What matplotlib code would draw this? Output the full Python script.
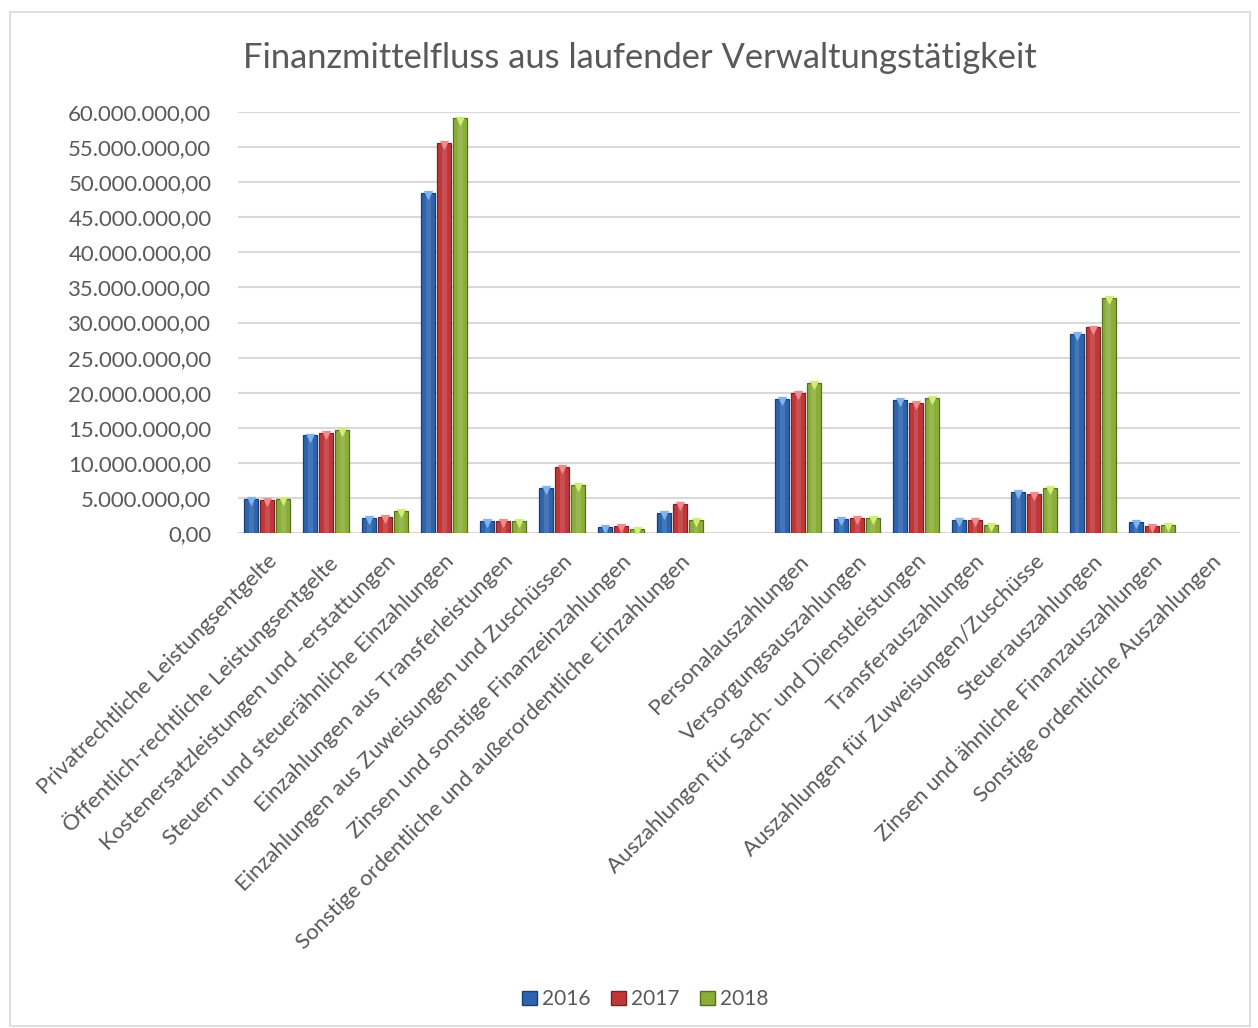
import matplotlib.pyplot as plt
from matplotlib.patches import Rectangle, Patch
from matplotlib.ticker import FuncFormatter
import numpy as np

plt.rcParams['font.family'] = ['Lato', 'DejaVu Sans']

einzahlungen = [
    "Privatrechtliche Leistungsentgelte",
    "Öffentlich-rechtliche Leistungsentgelte",
    "Kostenersatzleistungen und -erstattungen",
    "Steuern und steuerähnliche Einzahlungen",
    "Einzahlungen aus Transferleistungen",
    "Einzahlungen aus Zuweisungen und Zuschüssen",
    "Zinsen und sonstige Finanzeinzahlungen",
    "Sonstige ordentliche und außerordentliche Einzahlungen",
]
auszahlungen = [
    "Personalauszahlungen",
    "Versorgungsauszahlungen",
    "Auszahlungen für Sach- und Dienstleistungen",
    "Transferauszahlungen",
    "Auszahlungen für Zuweisungen/Zuschüsse",
    "Steuerauszahlungen",
    "Zinsen und ähnliche Finanzauszahlungen",
    "Sonstige ordentliche Auszahlungen",
]
categories = einzahlungen + [""] + auszahlungen

# millions of euro (None = empty gap slot)
v2016 = [4.86, 13.9, 2.19, 48.5, 1.76, 6.43, 0.86, 2.86, None,
         19.1, 2.0, 19.0, 1.86, 5.9, 28.4, 1.62, 0.0]
v2017 = [4.76, 14.3, 2.29, 55.6, 1.71, 9.48, 1.05, 4.19, None,
         19.96, 2.19, 18.57, 1.86, 5.57, 29.3, 1.0, 0.0]
v2018 = [4.86, 14.7, 3.19, 59.1, 1.76, 6.9, 0.57, 1.9, None,
         21.4, 2.19, 19.3, 1.19, 6.47, 33.5, 1.19, 0.0]
years = ["2016", "2017", "2018"]
series = [v2016, v2017, v2018]

colors = ["#2D64AE", "#C0373A", "#8AAE38"]
edges = ["#1D3F6E", "#7A2224", "#56701F"]
tips = ["#7FB4F0", "#F08A8C", "#D2EE7A"]

fig = plt.figure(figsize=(12.58, 10.28), dpi=100)
ax = fig.add_axes([0.189, 0.4815, 0.797, 0.4095])

x = np.arange(len(categories))
w = 0.24
step = 0.27
for k, vals in enumerate(series):
    xs = [xi + (k - 1) * step for xi, v in zip(x, vals) if v]
    hs = [v * 1e6 for v in vals if v]
    ax.bar(xs, hs, width=w, color=colors[k], edgecolor=edges[k], linewidth=0.9, zorder=3)
    # bevel highlight stripe and top tip
    ax.bar(xs, hs, width=w * 0.35, color="white", alpha=0.12, linewidth=0, zorder=4)
    ax.scatter(xs, [h - 0.35e6 for h in hs], marker="v", s=45, color=tips[k],
               linewidths=0, zorder=5)

ax.set_xlim(-0.5, len(categories) - 0.5)
ax.set_ylim(0, 60e6)
ax.set_yticks(np.arange(0, 60e6 + 1, 5e6))


def de_fmt(v, pos):
    s = f"{v:,.2f}"
    return s.replace(",", "X").replace(".", ",").replace("X", ".")


ax.yaxis.set_major_formatter(FuncFormatter(de_fmt))
ax.grid(axis="y", color="#D9D9D9", linewidth=1.5, zorder=0)
for s in ax.spines.values():
    s.set_visible(False)
ax.tick_params(axis="both", length=0, labelsize=15.9, colors="#595959")
ax.tick_params(axis="y", pad=19)
ax.tick_params(axis="x", pad=13)
ax.set_xticks(x)
ax.set_xticklabels(categories, rotation=45, ha="right", rotation_mode="anchor")

fig.text(0.509, 0.944, "Finanzmittelfluss aus laufender Verwaltungstätigkeit",
         ha="center", va="center", fontsize=24.8, color="#595959")

handles = [Patch(facecolor=colors[k], edgecolor=edges[k], label=years[k]) for k in range(3)]
fig.legend(handles=handles, loc="center", bbox_to_anchor=(0.513, 0.028), ncol=3,
           frameon=False, fontsize=15, handlelength=0.7, handleheight=0.7,
           handletextpad=0.25, columnspacing=1.0, labelcolor="#595959")

fig.patches.append(Rectangle((0.008, 0.002), 0.986, 0.986, transform=fig.transFigure,
                             fill=False, edgecolor="#D9D9D9", linewidth=1.2))

fig.savefig("out.png", dpi=100, facecolor="white")
